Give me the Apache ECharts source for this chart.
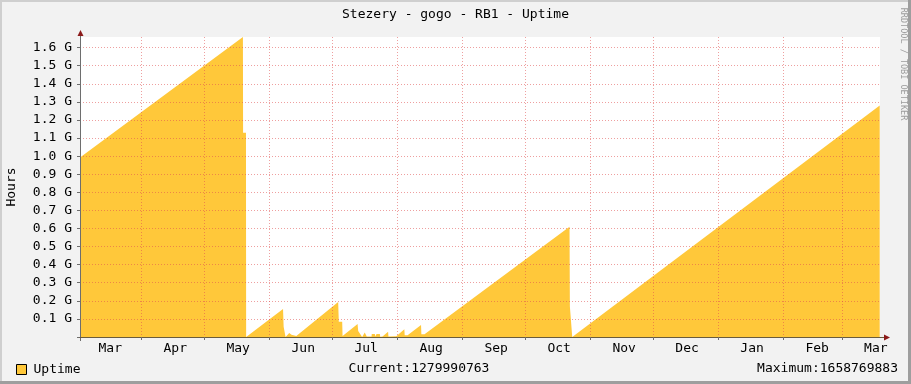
<!DOCTYPE html>
<html><head><meta charset="utf-8">
<script src="https://cdn.jsdelivr.net/npm/echarts@6/dist/echarts.min.js"></script>
<style>html,body{margin:0;padding:0;background:#F2F2F2}#c{width:911px;height:384px}</style>
</head><body><div id="c"></div>
<script>
const titleText = 'Stezery - gogo - RB1 - Uptime';
const seriesName = 'Uptime';
const axisName = 'Hours';
const watermark = 'RRDTOOL / TOBI OETIKER';
const timeStart = '2018-03-02T14:00:00Z';
const timeEnd = '2019-03-18T23:20:00Z';
const monthStarts = ['2018-04-01','2018-05-01','2018-06-01','2018-07-01','2018-08-01','2018-09-01','2018-10-01','2018-11-01','2018-12-01','2019-01-01','2019-02-01','2019-03-01'];
const monthLabelDates = ['2018-03-17','2018-04-17','2018-05-17','2018-06-17','2018-07-17','2018-08-17','2018-09-17','2018-10-17','2018-11-17','2018-12-17','2019-01-17','2019-02-17','2019-03-17'];
const monthLabels = ['Mar','Apr','May','Jun','Jul','Aug','Sep','Oct','Nov','Dec','Jan','Feb','Mar'];
const yTicks = [100000000,200000000,300000000,400000000,500000000,600000000,700000000,800000000,900000000,1000000000,1100000000,1200000000,1300000000,1400000000,1500000000,1600000000];
const yMax = 1658769883;
const currentValue = 1279990763;
const maximumValue = 1658769883;
const sampleTimes = [
'2018-03-02T14:00:00Z','2018-05-19T06:00:00Z','2018-05-19T08:00:00Z','2018-05-20T17:00:00Z','2018-05-20T19:00:00Z',
'2018-05-21T10:00:00Z','2018-05-21T12:00:00Z','2018-06-07T09:00:00Z','2018-06-07T16:00:00Z','2018-06-08T07:00:00Z',
'2018-06-08T14:00:00Z','2018-06-09T06:00:00Z','2018-06-10T08:00:00Z','2018-06-10T17:00:00Z','2018-06-11T10:00:00Z',
'2018-06-11T18:00:00Z','2018-06-13T17:00:00Z','2018-06-13T23:00:00Z','2018-07-03T16:00:00Z','2018-07-03T23:00:00Z',
'2018-07-05T14:00:00Z','2018-07-05T18:00:00Z','2018-07-06T02:00:00Z','2018-07-12T22:00:00Z','2018-07-13T05:00:00Z',
'2018-07-14T00:00:00Z','2018-07-14T19:00:00Z','2018-07-15T02:00:00Z','2018-07-15T13:00:00Z','2018-07-16T08:00:00Z',
'2018-07-17T04:00:00Z','2018-07-17T07:00:00Z','2018-07-19T14:00:00Z','2018-07-19T16:00:00Z','2018-07-21T04:00:00Z',
'2018-07-21T08:00:00Z','2018-07-21T20:00:00Z','2018-07-21T23:00:00Z','2018-07-23T13:00:00Z','2018-07-23T17:00:00Z',
'2018-07-24T19:00:00Z','2018-07-27T11:00:00Z','2018-07-27T15:00:00Z','2018-07-31T09:00:00Z','2018-08-04T05:00:00Z',
'2018-08-04T09:00:00Z','2018-08-05T18:00:00Z','2018-08-12T04:00:00Z','2018-08-12T08:00:00Z','2018-08-13T20:00:00Z',
'2018-08-14T05:00:00Z','2018-10-21T23:00:00Z','2018-10-22T03:00:00Z','2018-10-22T23:00:00Z','2018-10-23T06:00:00Z',
'2018-10-23T15:00:00Z','2019-03-18T20:00:00Z'];
const uptimeValues = [
993000000,1658769883,1130000000,1130000000,0,
0,5000000,155000000,57000000,57000000,
0,3000000,22000000,12000000,12000000,
4000000,6000000,15000000,194000000,85000000,
85000000,5000000,8000000,72000000,33000000,
20000000,20000000,0,8000000,25000000,
22000000,3000000,3000000,17000000,17000000,
3000000,3000000,17000000,17000000,2000000,
3000000,29000000,3000000,4000000,43000000,
10000000,10000000,66000000,15000000,15000000,
10000000,610000000,168000000,168000000,0,
8000000,1279990763];

const MONO = '"DejaVu Sans Mono", monospace';
const toTs = s => Date.parse(s.length === 10 ? s + 'T00:00:00Z' : s);
const tickTs = monthStarts.map(toTs);
const labelTs = monthLabelDates.map(toTs);
const data = sampleTimes.map((t, i) => [toTs(t), uptimeValues[i]]);
const gridColor = 'rgba(224,80,80,0.55)';
const arrowColor = '#8B1A1A';
const axisColor = '#6E6E6E';

const chart = echarts.init(document.getElementById('c'), null, {renderer: 'canvas'});
chart.setOption({
  animation: false,
  backgroundColor: '#F2F2F2',
  title: {text: titleText, left: 'center', top: 8, padding: 0,
    textStyle: {fontFamily: MONO, fontSize: 13, fontWeight: 'normal', color: '#000'}},
  legend: {data: [seriesName], left: 16, top: 363, padding: 0, icon: 'rect', itemWidth: 10, itemHeight: 10,
    itemStyle: {borderColor: '#000', borderWidth: 1},
    textStyle: {fontFamily: MONO, fontSize: 13, color: '#000', padding: [0, 0, 0, 2]}},
  grid: {left: 80, top: 37, width: 800, height: 300, containLabel: false,
    show: true, backgroundColor: '#FFFFFF', borderWidth: 0},
  xAxis: {
    type: 'value', min: toTs(timeStart), max: toTs(timeEnd), z: 3,
    axisLine: {show: true, lineStyle: {color: '#6A5C3C', width: 1}},
    axisTick: {show: true, customValues: tickTs, length: 3, lineStyle: {color: axisColor}},
    axisLabel: {customValues: labelTs, margin: 5, fontFamily: MONO, fontSize: 13, color: '#000',
      formatter: function (v) {
        const i = labelTs.findIndex(t => Math.abs(t - v) < 3600000);
        return i >= 0 ? monthLabels[i] : '';
      }},
    splitLine: {show: true, lineStyle: {color: gridColor, width: 1, type: [1, 2]}}
  },
  yAxis: {
    type: 'value', min: 0, max: yMax, z: 3,
    axisLine: {show: true, lineStyle: {color: axisColor, width: 1}},
    axisTick: {show: true, customValues: yTicks, length: 3, lineStyle: {color: axisColor}},
    axisLabel: {customValues: yTicks, margin: 8, fontFamily: MONO, fontSize: 13, color: '#000',
      formatter: v => (v / 1e9).toFixed(1) + ' G'},
    splitLine: {show: true, lineStyle: {color: gridColor, width: 1, type: [1, 2]}}
  },
  series: [{
    name: seriesName, type: 'line', data: data, z: 2,
    symbol: 'none', showSymbol: false,
    lineStyle: {width: 0, color: '#FFC83A'},
    itemStyle: {color: '#FFC83A'},
    areaStyle: {color: '#FFC83A', opacity: 1}
  }],
  graphic: [
    {type: 'rect', silent: true, shape: {x: 0, y: 0, width: 911, height: 2}, style: {fill: '#CFCFCF'}},
    {type: 'rect', silent: true, shape: {x: 0, y: 0, width: 2, height: 384}, style: {fill: '#CFCFCF'}},
    {type: 'rect', silent: true, shape: {x: 908, y: 0, width: 3, height: 384}, style: {fill: '#9E9E9E'}},
    {type: 'rect', silent: true, shape: {x: 0, y: 381, width: 911, height: 3}, style: {fill: '#9E9E9E'}},
    {type: 'line', silent: true, shape: {x1: 80.5, y1: 31, x2: 80.5, y2: 37}, style: {stroke: axisColor, lineWidth: 1}},
    {type: 'line', silent: true, shape: {x1: 80.5, y1: 337, x2: 80.5, y2: 341}, style: {stroke: axisColor, lineWidth: 1}},
    {type: 'line', silent: true, shape: {x1: 77, y1: 337.5, x2: 80, y2: 337.5}, style: {stroke: axisColor, lineWidth: 1}},
    {type: 'line', silent: true, shape: {x1: 880, y1: 337.5, x2: 885, y2: 337.5}, style: {stroke: '#6A5C3C', lineWidth: 1}},
    {type: 'polygon', silent: true, shape: {points: [[77.5, 36], [83.5, 36], [80.5, 30]]}, style: {fill: arrowColor}},
    {type: 'polygon', silent: true, shape: {points: [[884, 334.5], [884, 340.5], [890, 337.5]]}, style: {fill: arrowColor}},
    {type: 'text', silent: true, x: 12, y: 187, rotation: Math.PI / 2,
      style: {text: axisName, font: '13px ' + MONO, fill: '#000', align: 'center', verticalAlign: 'middle'}},
    {type: 'text', silent: true, x: 903, y: 64, rotation: -Math.PI / 2,
      style: {text: watermark, font: '8.5px ' + MONO, fill: '#9C9C9C', align: 'center', verticalAlign: 'middle'}},
    {type: 'text', silent: true, x: 419, y: 369,
      style: {text: 'Current:' + currentValue, font: '13px ' + MONO, fill: '#000', align: 'center', verticalAlign: 'middle'}},
    {type: 'text', silent: true, x: 898, y: 369,
      style: {text: 'Maximum:' + maximumValue, font: '13px ' + MONO, fill: '#000', align: 'right', verticalAlign: 'middle'}}
  ]
});
</script></body></html>
